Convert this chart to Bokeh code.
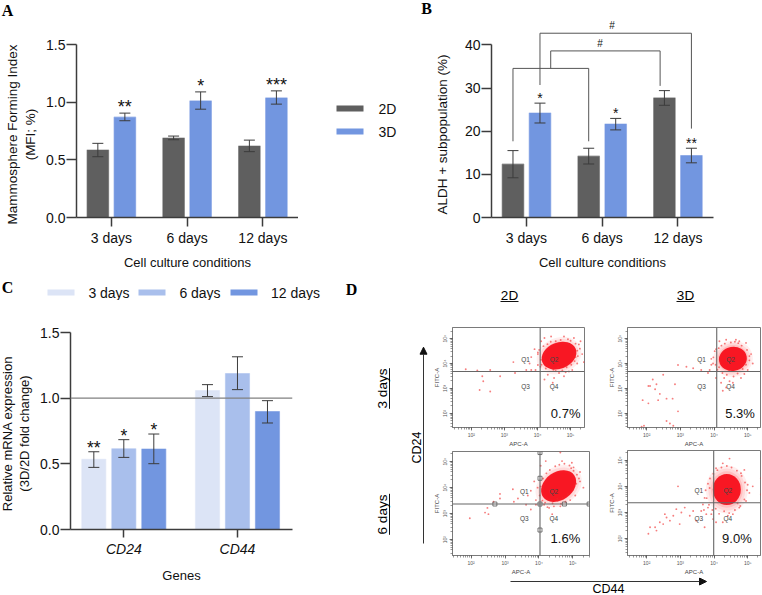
import math
import numpy as np
from bokeh.embed import file_html
from bokeh.resources import INLINE
from bokeh.plotting import figure
from bokeh.layouts import row, column
from bokeh.core.properties import value
from bokeh.models import (ColumnDataSource, Range1d, Whisker, TeeHead, Label,
                          FixedTicker, Span, Arrow, NormalHead, LogTicker)

SANS = "Liberation Sans"
SERIF = "Liberation Serif"
GRAY = "#5f5f5f"
BLUE = "#7296e0"
BLUE_MID = "#a9bfec"
BLUE_PALE = "#dce4f6"
DARK = "#3c3c3c"

# ---------- Panel A ----------
days = ["3 days", "6 days", "12 days"]
mfi_2d = [0.585, 0.689, 0.62]
mfi_2d_hi = [0.643, 0.706, 0.671]
mfi_2d_lo = [0.527, 0.674, 0.571]
mfi_3d = [0.87, 1.011, 1.037]
mfi_3d_hi = [0.905, 1.089, 1.098]
mfi_3d_lo = [0.839, 0.939, 0.983]
mfi_stars = ["**", "*", "***"]

# ---------- Panel B ----------
aldh_2d = [12.36, 14.2, 27.7]
aldh_2d_hi = [15.5, 16.05, 29.4]
aldh_2d_lo = [9.2, 12.4, 26.0]
aldh_3d = [24.2, 21.65, 14.36]
aldh_3d_hi = [26.5, 22.96, 16.05]
aldh_3d_lo = [21.9, 20.3, 12.67]
aldh_stars = ["*", "*", "**"]

# ---------- Panel C ----------
genes = ["CD24", "CD44"]
series_c = ["3 days", "6 days", "12 days"]
rel_expr = [[0.534, 1.058], [0.615, 1.187], [0.613, 0.898]]
rel_hi = [[0.592, 1.103], [0.684, 1.315], [0.727, 0.981]]
rel_lo = [[0.473, 1.012], [0.549, 1.065], [0.501, 0.811]]
rel_stars = [["**", ""], ["*", ""], ["*", ""]]

# ---------- Panel D (log10 APC-A, log10 FITC-A) ----------
tl_x = [2.33, 2.36, 2.25, 2.57, 1.83, 2.18, 2.87, 2.57, 3.27, 3.32, 3.91, 4.01, 3.76, 3.81, 3.94, 4.01, 3.81, 3.66,
        4.11, 4.21, 4.41, 4.80, 5.10, 5.25, 5.35, 5.40, 5.20, 5.05, 4.80, 4.50, 4.31, 4.21, 4.46, 4.65, 4.09, 4.01,
        5.30, 5.15, 4.95, 4.55,
        4.05, 4.10, 4.12, 4.18, 4.25, 4.30, 4.35, 4.40, 4.48, 4.55, 4.62, 4.70, 4.75, 4.88, 4.92, 5.00, 5.02, 5.12,
        5.15, 5.20, 5.22, 5.28, 4.85, 4.22]
tl_y = [3.49, 3.29, 2.94, 2.88, 3.77, 3.72, 3.49, 3.74, 4.06, 3.62, 4.58, 4.45, 4.00, 4.26, 3.74, 3.94, 3.74, 3.74,
        4.90, 5.03, 5.09, 5.09, 5.03, 4.77, 4.38, 4.06, 4.00, 3.74, 3.49, 3.42, 3.55, 3.36, 3.23, 3.62, 3.87, 4.38,
        4.90, 4.26, 3.68, 4.90,
        4.55, 4.15, 3.95, 4.70, 3.80, 4.78, 3.88, 4.88, 3.75, 3.70, 3.85, 4.95, 3.72, 3.85, 4.98, 4.92, 3.95, 4.10,
        4.80, 4.52, 4.30, 4.60, 3.65, 4.42]
tr_x = [2.05, 2.10, 2.29, 2.18, 2.49, 2.39, 2.34, 1.88, 2.05, 2.59, 2.77, 2.93, 2.25, 2.84, 2.93, 2.59, 2.69, 2.79,
        1.85, 1.92, 3.18, 3.38, 3.62, 3.82, 3.92, 4.06, 4.16, 4.36, 4.75, 4.95, 5.10, 5.15, 5.00, 4.80, 4.56, 4.36,
        4.26, 3.97, 3.87, 4.06, 4.21, 4.65, 5.05, 4.46,
        3.98, 4.02, 4.05, 4.10, 4.14, 4.22, 4.25, 4.32, 4.38, 4.45, 4.50, 4.58, 4.62, 4.70, 4.72, 4.82, 4.85, 4.95,
        4.98, 5.05, 4.90, 4.15, 3.92, 4.30]
tr_y = [3.10, 3.10, 3.17, 3.36, 3.55, 2.78, 2.53, 2.53, 2.40, 2.59, 2.59, 2.08, 2.97, 3.17, 3.94, 1.69, 1.59, 1.50,
        1.46, 1.50, 3.87, 3.81, 3.74, 3.62, 4.19, 4.58, 4.90, 4.96, 4.90, 4.83, 4.38, 4.00, 3.74, 3.42, 3.23, 3.04,
        2.91, 4.00, 3.74, 3.42, 3.23, 4.96, 4.13, 3.29,
        4.25, 4.50, 3.95, 3.75, 4.62, 4.72, 3.62, 4.80, 3.55, 3.70, 4.85, 3.48, 4.88, 3.60, 4.82, 4.72, 3.78, 3.95,
        4.55, 4.30, 3.58, 3.85, 3.95, 3.42]
bl_x = [1.96, 2.48, 2.41, 2.66, 2.85, 2.51, 2.85, 3.23, 3.26, 3.38, 3.67, 3.76, 3.86, 3.62, 3.76, 3.91, 3.91, 4.05,
        4.20, 4.68, 4.63, 4.97, 5.21, 5.31, 5.21, 5.07, 4.92, 4.63, 4.39, 4.30, 4.15, 3.96, 5.02, 4.44, 4.54, 4.78,
        4.02, 4.05, 4.10, 4.12, 4.18, 4.22, 4.30, 4.32, 4.40, 4.48, 4.55, 4.60, 4.70, 4.75, 4.85, 4.90, 5.00, 5.02,
        5.10, 5.12, 5.18, 4.95, 4.65, 4.25]
bl_y = [2.82, 3.22, 3.04, 3.46, 3.76, 2.98, 3.58, 3.94, 3.46, 3.58, 3.70, 3.88, 4.24, 3.34, 3.16, 3.52, 3.34, 4.84,
        5.02, 5.02, 5.35, 4.96, 4.60, 4.00, 4.24, 3.70, 3.52, 3.28, 2.98, 3.22, 3.34, 4.00, 4.78, 3.28, 3.58, 3.46,
        3.70, 4.05, 3.50, 4.35, 3.42, 4.55, 3.55, 4.68, 3.40, 4.82, 3.50, 4.88, 3.62, 4.92, 3.75, 4.85, 3.92, 4.65,
        4.15, 4.50, 4.35, 4.75, 3.38, 3.25]
br_x = [2.05, 2.10, 2.25, 2.29, 2.39, 2.54, 2.59, 2.69, 2.88, 3.03, 2.98, 3.13, 3.28, 3.47, 3.62, 3.67, 3.72, 3.77,
        2.93, 2.49, 2.79, 3.38, 3.87, 3.92, 4.06, 4.26, 4.56, 4.75, 4.95, 5.00, 4.90, 4.46, 4.06, 4.26, 4.80, 5.05,
        3.97, 4.41, 3.82, 3.72, 5.39, 5.39, 5.15,
        3.75, 3.78, 3.82, 3.85, 3.88, 3.95, 3.98, 4.05, 4.10, 4.15, 4.22, 4.30, 4.38, 4.45, 4.52, 4.62, 4.68, 4.78,
        4.82, 4.90, 4.92, 4.98, 3.70, 4.70]
br_y = [2.19, 2.44, 2.44, 2.31, 2.63, 2.94, 2.81, 2.69, 3.13, 3.00, 2.56, 3.19, 2.88, 2.69, 3.06, 3.31, 2.44, 2.94,
        4.00, 2.56, 2.88, 3.06, 3.94, 2.94, 2.63, 2.63, 2.94, 3.19, 3.44, 4.06, 4.63, 5.06, 4.69, 4.88, 4.50, 3.75,
        2.75, 2.88, 3.19, 3.56, 4.31, 3.69, 4.00,
        3.85, 3.55, 4.10, 3.30, 4.30, 3.10, 4.48, 3.15, 4.62, 2.95, 4.72, 3.05, 4.78, 2.98, 4.72, 3.10, 4.60, 3.25,
        4.40, 3.50, 4.15, 3.85, 3.10, 3.35]
pct_labels = ["0.7%", "5.3%", "1.6%", "9.0%"]


def style_common(p):
    p.grid.visible = False
    p.outline_line_color = None


def bar_fig(w, h, left, right, top, bottom, xr, yr, yticks, xticks, xnames, xlabel):
    p = figure(title=None, width=w, height=h, x_range=Range1d(*xr), y_range=Range1d(*yr), frame_align=False,
               min_border_left=left, min_border_right=right, min_border_top=top, min_border_bottom=bottom,
               toolbar_location=None, output_backend="svg")
    style_common(p)
    ax = p.yaxis[0]
    ax.ticker = FixedTicker(ticks=yticks)
    ax.bounds = (yticks[0], yticks[-1])
    ax.major_label_text_font = SANS
    ax.major_label_text_font_size = "14px"
    ax.major_label_text_color = "#111111"
    ax.major_label_standoff = 1
    ax.major_tick_out = 10
    ax.major_tick_in = 0
    ax.minor_tick_out = 0
    ax.minor_tick_in = 0
    ax.axis_line_color = DARK
    ax.major_tick_line_color = DARK
    ax.axis_line_width = 1.5
    ax.major_tick_line_width = 1.5
    bx = p.xaxis[0]
    bx.ticker = FixedTicker(ticks=xticks)
    bx.major_label_overrides = {t: n for t, n in zip(xticks, xnames)}
    bx.axis_label = xlabel
    bx.axis_label_standoff = 6
    bx.axis_label_text_font = SANS
    bx.axis_label_text_font_size = "13px"
    bx.axis_label_text_font_style = "normal"
    bx.axis_label_text_color = "#111111"
    bx.major_label_text_font = SANS
    bx.major_label_text_font_size = "14px"
    bx.major_label_text_color = "#111111"
    bx.major_label_standoff = 3
    bx.major_tick_out = 9
    bx.major_tick_in = 0
    bx.minor_tick_out = 0
    bx.minor_tick_in = 0
    bx.axis_line_color = DARK
    bx.major_tick_line_color = DARK
    bx.axis_line_width = 1.5
    bx.major_tick_line_width = 1.5
    return p


def bars(p, x, vals, hi, lo, color, width, cap=11):
    src = ColumnDataSource(dict(x=list(x), top=vals, hi=hi, lo=lo))
    r = p.vbar(x="x", top="top", bottom=0, width=width, source=src, fill_color=color,
               line_color=color, line_alpha=0.55, line_width=1.2)
    head = lambda: TeeHead(size=cap, line_color=DARK, line_width=1)
    p.add_layout(Whisker(base="x", upper="hi", lower="lo", source=src, line_color=DARK, line_width=1,
                         upper_head=head(), lower_head=head(), level="overlay"))
    return r


def stars(p, x, hi, txt, size, off):
    src = ColumnDataSource(dict(x=list(x), y=hi, t=txt))
    p.text(x="x", y="y", text="t", source=src, text_font=value(SANS), text_font_size=value(size),
           text_align="center", text_baseline="alphabetic", text_color="#111111", y_offset=off)


def page_fig(x0, x1, y0, y1):
    p = figure(title=None, width=x1 - x0, height=y1 - y0, x_range=Range1d(x0, x1), y_range=Range1d(y1, y0),
               min_border=0, frame_align=False, toolbar_location=None, output_backend="svg",
               x_axis_location=None, y_axis_location=None)
    style_common(p)
    return p


def note(p, txt, x, y, size="13.5px", angle=0, font=SANS, style="normal", color="#000000", align="center"):
    p.add_layout(Label(x=x, y=y, text=txt, angle=angle, text_font=font, text_font_style=style, text_font_size=size,
                       text_align=align, text_baseline="middle", text_color=color))


idx = np.arange(len(days))
OFF = 13.5 / 75.7
BW = 21.5 / 75.7
V = math.pi / 2

# ---- letters above A and B ----
top_letters = page_fig(0, 762, 0, 20)
note(top_letters, "A", 7, 10, "16px", font=SERIF, style="bold")
note(top_letters, "B", 426, 8, "16px", font=SERIF, style="bold")

# ---- A ----
a_title = page_fig(0, 40, 20, 272)
note(a_title, "Mammosphere Forming Index", 12, 134, angle=V, color="#111111")
note(a_title, "(MFI; %)", 30, 134, angle=V, color="#111111")
a = bar_fig(258, 252, 36, 0, 24, 54, (-0.46, 2.47), (0, 1.5), [0, 0.5, 1.0, 1.5], [0, 1, 2], days,
            "Cell culture conditions")
a.yaxis[0].major_label_overrides = {0: "0.0", 0.5: "0.5", 1.0: "1.0", 1.5: "1.5"}
bars(a, idx - OFF, mfi_2d, mfi_2d_hi, mfi_2d_lo, GRAY, BW)
bars(a, idx + OFF, mfi_3d, mfi_3d_hi, mfi_3d_lo, BLUE, BW)
stars(a, idx + OFF, mfi_3d_hi, mfi_stars, "18px", -6)
a_leg = page_fig(298, 400, 20, 272)
a_leg.rect(x=[349.5, 349.5], y=[108, 131], width=27, height=6, fill_color=[GRAY, BLUE], line_color=None)
note(a_leg, "2D", 378, 108, color="#111111", align="left", size="14px")
note(a_leg, "3D", 378, 131, color="#111111", align="left", size="14px")

# ---- B ----
PX_B = 173.5 / 40
b_title = page_fig(400, 452, 20, 272)
note(b_title, "ALDH + subpopulation (%)", 442, 134, angle=V, color="#111111")
b = bar_fig(310, 252, 39, 49, 0, 54, (-0.462, 2.47), (0, 198 / PX_B), [0, 10, 20, 30, 40], [0, 1, 2], days,
            "Cell culture conditions")
bars(b, idx - OFF, aldh_2d, aldh_2d_hi, aldh_2d_lo, GRAY, BW)
bars(b, idx + OFF, aldh_3d, aldh_3d_hi, aldh_3d_lo, BLUE, BW)
stars(b, idx + OFF, aldh_3d_hi, aldh_stars, "14px", -5)
br_xs = [[-OFF, -OFF, 1 - OFF, 1 - OFF], [0.32, 0.32, 2 - 0.235, 2 - 0.235], [OFF, OFF, 2 + OFF, 2 + OFF]]
br_ys = [[17.66, 34.55, 34.55, 17.66], [34.55, 38.6, 38.6, 30.5], [30.7, 42.7, 42.7, 20.6]]
b.multi_line(xs=br_xs, ys=br_ys, line_color="#555555", line_width=1)
b.text(x=[1.13, 0.97], y=[44.5, 40.4], text=["#", "#"], text_font=value(SANS), text_font_size=value("10px"),
       text_align="center", text_baseline="middle", text_color="#111111")

# ---- C ----
PX_C = 197 / 1.5
c_title = page_fig(0, 34, 300, 595)
note(c_title, "Relative mRNA expression", 7, 433, "13px", angle=V, color="#111111")
note(c_title, "(3D/2D fold change)", 24, 433, "13px", angle=V, color="#111111")
c = bar_fig(306, 295, 36, 48, 0, 66, (-0.469, 1.484), (0, 229 / PX_C), [0, 0.5, 1.0, 1.5], [0, 1], genes, "Genes")
c.yaxis[0].major_label_overrides = {0: "0.0", 0.5: "0.5", 1.0: "1.0", 1.5: "1.5"}
c.xaxis[0].major_label_text_font_style = "italic"
c.xaxis[0].major_tick_out = 8
c.xaxis[0].axis_label_standoff = 8
gidx = np.arange(len(genes))
OFF_C = 30 / 113.7
BW_C = 24 / 113.7
cols = [BLUE_PALE, BLUE_MID, BLUE]
for i in range(3):
    xx = gidx + (i - 1) * OFF_C
    bars(c, xx, rel_expr[i], rel_hi[i], rel_lo[i], cols[i], BW_C)
    stars(c, xx, rel_hi[i], rel_stars[i], "17.5px", -4)
c.add_layout(Span(location=1.0, dimension="width", line_color="#808080", line_width=1.2))

c_head = page_fig(0, 340, 272, 300)
note(c_head, "C", 7, 287, "16px", font=SERIF, style="bold")
c_head.rect(x=[60.5, 151.5, 243.5], y=[292, 292, 292], width=27, height=6, fill_color=cols, line_color=None)
for s, lx in zip(series_c, [108.5, 199.5, 295]):
    note(c_head, s, lx, 292, color="#111111", size="14px")


# ---- D ----
def flow(w, h, left, right, top, bottom, xr, yr, px, py, centre, core, halo, gate, qx, qy, pct, pct_at):
    p = figure(title=None, width=w, height=h, x_axis_type="log", y_axis_type="log", frame_align=False,
               x_range=Range1d(10 ** xr[0], 10 ** xr[1]), y_range=Range1d(10 ** yr[0], 10 ** yr[1]),
               min_border_left=left, min_border_right=right, min_border_top=top, min_border_bottom=bottom,
               toolbar_location=None, output_backend="svg")
    p.grid.visible = False
    p.outline_line_color = "#7a7a7a"
    p.outline_line_width = 1
    for ax, name in ((p.xaxis[0], "APC-A"), (p.yaxis[0], "FITC-A")):
        ax.ticker = LogTicker(num_minor_ticks=10, desired_num_ticks=4)
        ax.major_label_overrides = {100: "10²", 1000: "10³", 10000: "10⁴", 100000: "10⁵"}
        ax.axis_label = name
        ax.axis_label_standoff = 0
        ax.axis_label_text_font = SANS
        ax.axis_label_text_font_size = "6px"
        ax.axis_label_text_font_style = "normal"
        ax.axis_label_text_color = "#444444"
        ax.major_label_text_font = SANS
        ax.major_label_text_font_size = "5px"
        ax.major_label_text_color = "#555555"
        ax.major_label_standoff = 1
        ax.major_tick_out = 3
        ax.major_tick_in = 0
        ax.minor_tick_out = 2
        ax.minor_tick_in = 0
        ax.axis_line_color = "#7a7a7a"
        ax.major_tick_line_color = "#555555"
        ax.minor_tick_line_color = "#555555"
        ax.major_tick_line_width = 0.7
        ax.minor_tick_line_width = 0.6
    p.yaxis[0].major_label_orientation = "vertical"
    cx, cy = 10 ** centre[0], 10 ** centre[1]
    for f, al in ((1.0, 0.08), (0.88, 0.1), (0.76, 0.14), (0.64, 0.2)):
        p.ellipse(x=[cx], y=[cy], width=[halo[0] * f], height=[halo[1] * f], angle=[math.radians(halo[2])],
                  width_units="screen", height_units="screen", fill_color="#ff2a2a", fill_alpha=al, line_color=None)
    p.ellipse(x=[cx], y=[cy], width=[core[0]], height=[core[1]], angle=[math.radians(core[2])],
              width_units="screen", height_units="screen", fill_color="#f8101c", fill_alpha=0.95, line_color=None)
    p.scatter(x=10 ** np.array(px), y=10 ** np.array(py), size=1.9, line_color=None,
              fill_color="#f02828", fill_alpha=0.6)
    p.add_layout(Span(location=10 ** gate[0], dimension="height", line_color="#666666", line_width=1.1))
    p.add_layout(Span(location=10 ** gate[1], dimension="width", line_color="#666666", line_width=1.1))
    p.text(x=10 ** np.array([qx[0], qx[1], qx[0], qx[1]]), y=10 ** np.array([qy[0], qy[0], qy[1], qy[1]]),
           text=["Q1", "Q2", "Q3", "Q4"], text_font=value(SANS), text_font_size=value("6.5px"),
           text_align="center", text_baseline="middle", text_color="#444444")
    p.text(x=[10 ** pct_at[0]], y=[10 ** pct_at[1]], text=[pct], text_font=value(SANS),
           text_font_size=value("13px"), text_align="center", text_baseline="middle", text_color="#111111")
    return p


XR_L, XR_R = (1.43, 5.42), (1.43, 5.38)
tl = flow(175, 127, 19, 21, 5, 17, XR_L, (1.43, 5.45), tl_x, tl_y, (4.65, 4.32), (36, 26, 22), (46, 36, 22),
          (4.08, 3.68), (3.64, 4.50), (4.15, 3.08), pct_labels[0], (4.85, 2.0))
tr = flow(157, 127, 21, 2, 5, 17, XR_R, (1.43, 5.45), tr_x, tr_y, (4.56, 4.19), (28, 24, 10), (40, 36, 10),
          (4.08, 3.68), (3.63, 4.49), (4.15, 3.08), pct_labels[1], (4.77, 2.0))
bl = flow(175, 128, 19, 16, 2, 15, (1.45, 5.49), (1.39, 5.39), bl_x, bl_y, (4.58, 4.06), (38, 28, 35), (50, 38, 35),
          (4.03, 3.37), (3.57, 4.44), (3.84, 2.80), pct_labels[2], (4.78, 2.05))
brf = flow(157, 128, 21, 2, 1, 20, XR_R, (1.36, 5.37), br_x, br_y, (4.38, 3.88), (28, 31, 0), (42, 48, 0),
           (3.99, 3.375), (3.55, 4.41), (3.85, 2.79), pct_labels[3], (4.68, 2.0))
# gate handles of the lower-left plot
bl.scatter(x=10 ** np.array([4.03, 4.03, 2.70, 4.03, 4.75, 4.03, 5.48]),
           y=10 ** np.array([5.35, 4.36, 3.37, 3.37, 3.37, 2.37, 3.37]),
           marker="square", size=4, fill_color=None, line_color="#555555", line_width=0.8)

strip = page_fig(340, 430, 272, 595)
note(strip, "D", 351, 289, "16px", font=SERIF, style="bold")
note(strip, "3 days", 382, 388, angle=V)
note(strip, "6 days", 382, 514, angle=V)
note(strip, "CD24", 416, 447, "12.5px", angle=V)
strip.segment(x0=[389, 389], y0=[367.7, 493.3], x1=[389, 389], y1=[408.3, 534.3], line_color="#111111", line_width=1)
strip.add_layout(Arrow(end=NormalHead(size=7, fill_color="#111111", line_color="#111111"),
                       x_start=423, y_start=543, x_end=423, y_end=346.7, line_color="#333333", line_width=1))

top_strip = page_fig(430, 762, 272, 322)
note(top_strip, "2D", 509, 295)
note(top_strip, "3D", 685, 295)
top_strip.segment(x0=[500, 676], y0=[301, 301], x1=[518, 694], y1=[301, 301], line_color="#111111", line_width=1)

bot_strip = page_fig(430, 762, 577, 595)
bot_strip.add_layout(Arrow(end=NormalHead(size=7, fill_color="#111111", line_color="#111111"),
                           x_start=510, y_start=581, x_end=706, y_end=581, line_color="#333333", line_width=1))
note(bot_strip, "CD44", 608, 588, "12.5px")

d_col = column(top_strip, row(tl, tr, spacing=0), row(bl, brf, spacing=0), bot_strip, spacing=0)
c_col = column(c_head, row(c_title, c, spacing=0), spacing=0)
top_row = row(a_title, a, a_leg, b_title, b, spacing=0)
root = column(top_letters, top_row, row(c_col, strip, d_col, spacing=0), spacing=0)

open("out.html", "w").write(file_html(root, INLINE))
